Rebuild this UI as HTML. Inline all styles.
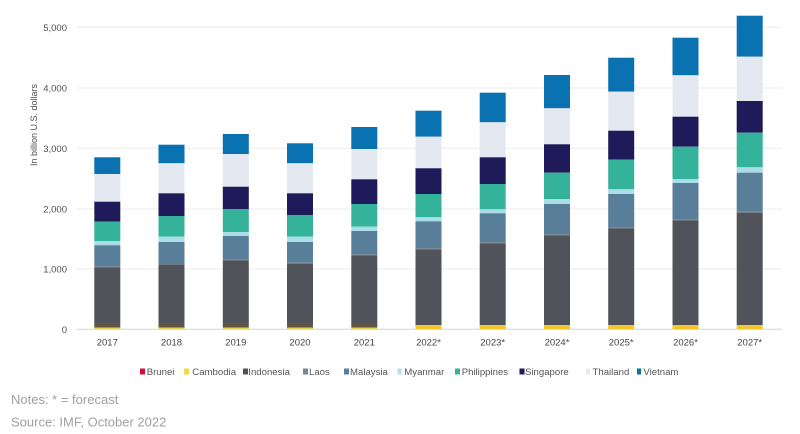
<!DOCTYPE html>
<html>
<head>
<meta charset="utf-8">
<style>
html,body{margin:0;padding:0;background:#fff;}
body{width:800px;height:434px;overflow:hidden;}
svg{display:block;font-family:"Liberation Sans",Arial,sans-serif;}
</style>
</head>
<body>
<svg width="800" height="434" viewBox="0 0 800 434" xmlns="http://www.w3.org/2000/svg">
  <!-- gridlines -->
  <g stroke="#ebebeb" stroke-width="1">
    <line x1="77" y1="27.3" x2="782" y2="27.3"/>
    <line x1="77" y1="88" x2="782" y2="88"/>
    <line x1="77" y1="148.3" x2="782" y2="148.3"/>
    <line x1="77" y1="209" x2="782" y2="209"/>
    <line x1="77" y1="269" x2="782" y2="269"/>
  </g>
  <line x1="77" y1="329.3" x2="782" y2="329.3" stroke="#d6d6d6" stroke-width="1"/>

  <!-- y tick labels -->
  <g font-size="9.5" fill="#505050" text-anchor="end">
    <text x="67" y="31">5,000</text>
    <text x="67" y="91.5">4,000</text>
    <text x="67" y="152">3,000</text>
    <text x="67" y="212.5">2,000</text>
    <text x="67" y="272.5">1,000</text>
    <text x="67" y="333">0</text>
  </g>
  <text transform="translate(37,125) rotate(-90)" font-size="9" fill="#505050" text-anchor="middle">In billion U.S. dollars</text>

  <!-- x labels -->
  <g font-size="9.5" fill="#444" text-anchor="middle">
    <text x="107.3" y="345.5">2017</text>
    <text x="171.5" y="345.5">2018</text>
    <text x="235.8" y="345.5">2019</text>
    <text x="300" y="345.5">2020</text>
    <text x="364.3" y="345.5">2021</text>
    <text x="428.5" y="345.5">2022*</text>
    <text x="492.7" y="345.5">2023*</text>
    <text x="557" y="345.5">2024*</text>
    <text x="621.2" y="345.5">2025*</text>
    <text x="685.5" y="345.5">2026*</text>
    <text x="749.7" y="345.5">2027*</text>
  </g>

  <!-- legend -->
  <g font-size="9.6" fill="#555">
    <rect x="140" y="368.5" width="5" height="6" fill="#d0103a"/><text x="146.7" y="375">Brunei</text>
    <rect x="184" y="368.5" width="5" height="6" fill="#f0d84a"/><text x="192.3" y="375">Cambodia</text>
    <rect x="243" y="368.5" width="5" height="6" fill="#50545a"/><text x="248.3" y="375">Indonesia</text>
    <rect x="303" y="368.5" width="5" height="6" fill="#7a858e"/><text x="309" y="375">Laos</text>
    <rect x="344" y="368.5" width="5" height="6" fill="#587e9a"/><text x="350" y="375">Malaysia</text>
    <rect x="397.5" y="368.5" width="4" height="6" fill="#b4e0e8"/><text x="404.3" y="375">Myanmar</text>
    <rect x="455" y="368.5" width="5" height="6" fill="#34b39a"/><text x="461.7" y="375">Philippines</text>
    <rect x="519.5" y="368.5" width="5" height="6" fill="#1f1a5a"/><text x="525" y="375">Singapore</text>
    <rect x="586" y="368.5" width="4" height="6" fill="#e8ebf1"/><text x="592.5" y="375">Thailand</text>
    <rect x="637" y="368.5" width="4" height="6" fill="#0a72b0"/><text x="643.4" y="375">Vietnam</text>
  </g>

  <!-- notes -->
  <g font-size="13" fill="#a0a0a0">
    <text x="11" y="404">Notes: * = forecast</text>
    <text x="11" y="426.5">Source: IMF, October 2022</text>
  </g>

  <!-- bars -->
  <g>
    <!-- 2017 -->
    <g transform="translate(94.3,0)">
      <rect x="0" y="157.3" width="26" height="16.7" fill="#0a72b0"/>
      <rect x="0" y="174" width="26" height="27.7" fill="#e4e8f0"/>
      <rect x="0" y="201.7" width="26" height="20" fill="#1f1a5a"/>
      <rect x="0" y="221.7" width="26" height="19.3" fill="#34b39a"/>
      <rect x="0" y="241" width="26" height="4.3" fill="#a9dde8"/>
      <rect x="0" y="245.3" width="26" height="21" fill="#587e9a"/>
      <rect x="0" y="266.3" width="26" height="1" fill="#6c7883"/>
      <rect x="0" y="267.3" width="26" height="55.7" fill="#50545a"/>
      <rect x="0" y="323" width="26" height="4.5" fill="#5e5646"/>
      <rect x="0" y="327.5" width="26" height="1.8" fill="#e8cf55"/>
    </g>
    <!-- 2018 -->
    <g transform="translate(158.5,0)">
      <rect x="0" y="144.7" width="26" height="18.6" fill="#0a72b0"/>
      <rect x="0" y="163.3" width="26" height="30" fill="#e4e8f0"/>
      <rect x="0" y="193.3" width="26" height="22.7" fill="#1f1a5a"/>
      <rect x="0" y="216" width="26" height="20.7" fill="#34b39a"/>
      <rect x="0" y="236.7" width="26" height="5.3" fill="#a9dde8"/>
      <rect x="0" y="242" width="26" height="22" fill="#587e9a"/>
      <rect x="0" y="264" width="26" height="1" fill="#6c7883"/>
      <rect x="0" y="265" width="26" height="58" fill="#50545a"/>
      <rect x="0" y="323" width="26" height="4.5" fill="#5e5646"/>
      <rect x="0" y="327.5" width="26" height="1.8" fill="#e8cf55"/>
    </g>
    <!-- 2019 -->
    <g transform="translate(222.8,0)">
      <rect x="0" y="134" width="26" height="20" fill="#0a72b0"/>
      <rect x="0" y="154" width="26" height="32.7" fill="#e4e8f0"/>
      <rect x="0" y="186.7" width="26" height="22.3" fill="#1f1a5a"/>
      <rect x="0" y="209" width="26" height="23" fill="#34b39a"/>
      <rect x="0" y="232" width="26" height="4" fill="#a9dde8"/>
      <rect x="0" y="236" width="26" height="23.3" fill="#587e9a"/>
      <rect x="0" y="259.3" width="26" height="1" fill="#6c7883"/>
      <rect x="0" y="260.3" width="26" height="62.7" fill="#50545a"/>
      <rect x="0" y="323" width="26" height="4.5" fill="#5e5646"/>
      <rect x="0" y="327.5" width="26" height="1.8" fill="#e8cf55"/>
    </g>
    <!-- 2020 -->
    <g transform="translate(287,0)">
      <rect x="0" y="143.3" width="26" height="20" fill="#0a72b0"/>
      <rect x="0" y="163.3" width="26" height="30" fill="#e4e8f0"/>
      <rect x="0" y="193.3" width="26" height="21.7" fill="#1f1a5a"/>
      <rect x="0" y="215" width="26" height="21.7" fill="#34b39a"/>
      <rect x="0" y="236.7" width="26" height="5.3" fill="#a9dde8"/>
      <rect x="0" y="242" width="26" height="20.7" fill="#587e9a"/>
      <rect x="0" y="262.7" width="26" height="1" fill="#6c7883"/>
      <rect x="0" y="263.7" width="26" height="59.3" fill="#50545a"/>
      <rect x="0" y="323" width="26" height="4.5" fill="#5e5646"/>
      <rect x="0" y="327.5" width="26" height="1.8" fill="#e8cf55"/>
    </g>
    <!-- 2021 -->
    <g transform="translate(351.3,0)">
      <rect x="0" y="127" width="26" height="22" fill="#0a72b0"/>
      <rect x="0" y="149" width="26" height="30.3" fill="#e4e8f0"/>
      <rect x="0" y="179.3" width="26" height="24.7" fill="#1f1a5a"/>
      <rect x="0" y="204" width="26" height="22.7" fill="#34b39a"/>
      <rect x="0" y="226.7" width="26" height="4.3" fill="#a9dde8"/>
      <rect x="0" y="231" width="26" height="23.3" fill="#587e9a"/>
      <rect x="0" y="254.3" width="26" height="1" fill="#6c7883"/>
      <rect x="0" y="255.3" width="26" height="68.7" fill="#50545a"/>
      <rect x="0" y="324" width="26" height="3.5" fill="#5e5646"/>
      <rect x="0" y="327.5" width="26" height="1.8" fill="#e8cf55"/>
    </g>
    <!-- 2022 -->
    <g transform="translate(415.5,0)">
      <rect x="0" y="110.7" width="26" height="26" fill="#0a72b0"/>
      <rect x="0" y="136.7" width="26" height="31.6" fill="#e4e8f0"/>
      <rect x="0" y="168.3" width="26" height="25.7" fill="#1f1a5a"/>
      <rect x="0" y="194" width="26" height="23.3" fill="#34b39a"/>
      <rect x="0" y="217.3" width="26" height="4" fill="#a9dde8"/>
      <rect x="0" y="221.3" width="26" height="27" fill="#587e9a"/>
      <rect x="0" y="248.3" width="26" height="1" fill="#6c7883"/>
      <rect x="0" y="249.3" width="26" height="75.7" fill="#50545a"/>
      <rect x="0" y="325" width="26" height="4.3" fill="#f0c82a"/>
    </g>
    <!-- 2023 -->
    <g transform="translate(479.7,0)">
      <rect x="0" y="92.7" width="26" height="29.6" fill="#0a72b0"/>
      <rect x="0" y="122.3" width="26" height="35" fill="#e4e8f0"/>
      <rect x="0" y="157.3" width="26" height="26.7" fill="#1f1a5a"/>
      <rect x="0" y="184" width="26" height="25.3" fill="#34b39a"/>
      <rect x="0" y="209.3" width="26" height="4" fill="#a9dde8"/>
      <rect x="0" y="213.3" width="26" height="29" fill="#587e9a"/>
      <rect x="0" y="242.3" width="26" height="1" fill="#6c7883"/>
      <rect x="0" y="243.3" width="26" height="81.7" fill="#50545a"/>
      <rect x="0" y="325" width="26" height="4.3" fill="#f0c82a"/>
    </g>
    <!-- 2024 -->
    <g transform="translate(544,0)">
      <rect x="0" y="75" width="26" height="33.3" fill="#0a72b0"/>
      <rect x="0" y="108.3" width="26" height="36" fill="#e4e8f0"/>
      <rect x="0" y="144.3" width="26" height="28.4" fill="#1f1a5a"/>
      <rect x="0" y="172.7" width="26" height="26.3" fill="#34b39a"/>
      <rect x="0" y="199" width="26" height="5" fill="#a9dde8"/>
      <rect x="0" y="204" width="26" height="30.3" fill="#587e9a"/>
      <rect x="0" y="234.3" width="26" height="1" fill="#6c7883"/>
      <rect x="0" y="235.3" width="26" height="89.7" fill="#50545a"/>
      <rect x="0" y="325" width="26" height="4.3" fill="#f0c82a"/>
    </g>
    <!-- 2025 -->
    <g transform="translate(608.2,0)">
      <rect x="0" y="57.7" width="26" height="34" fill="#0a72b0"/>
      <rect x="0" y="91.7" width="26" height="39" fill="#e4e8f0"/>
      <rect x="0" y="130.7" width="26" height="29" fill="#1f1a5a"/>
      <rect x="0" y="159.7" width="26" height="29.6" fill="#34b39a"/>
      <rect x="0" y="189.3" width="26" height="4.7" fill="#a9dde8"/>
      <rect x="0" y="194" width="26" height="33.3" fill="#587e9a"/>
      <rect x="0" y="227.3" width="26" height="1" fill="#6c7883"/>
      <rect x="0" y="228.3" width="26" height="96.7" fill="#50545a"/>
      <rect x="0" y="325" width="26" height="4.3" fill="#f0c82a"/>
    </g>
    <!-- 2026 -->
    <g transform="translate(672.5,0)">
      <rect x="0" y="37.7" width="26" height="37.6" fill="#0a72b0"/>
      <rect x="0" y="75.3" width="26" height="41.4" fill="#e4e8f0"/>
      <rect x="0" y="116.7" width="26" height="30" fill="#1f1a5a"/>
      <rect x="0" y="146.7" width="26" height="32.3" fill="#34b39a"/>
      <rect x="0" y="179" width="26" height="4" fill="#a9dde8"/>
      <rect x="0" y="183" width="26" height="36.3" fill="#587e9a"/>
      <rect x="0" y="219.3" width="26" height="1" fill="#6c7883"/>
      <rect x="0" y="220.3" width="26" height="104.7" fill="#50545a"/>
      <rect x="0" y="325" width="26" height="4.3" fill="#f0c82a"/>
    </g>
    <!-- 2027 -->
    <g transform="translate(736.7,0)">
      <rect x="0" y="15.7" width="26" height="41" fill="#0a72b0"/>
      <rect x="0" y="56.7" width="26" height="44.3" fill="#e4e8f0"/>
      <rect x="0" y="101" width="26" height="31.7" fill="#1f1a5a"/>
      <rect x="0" y="132.7" width="26" height="34.6" fill="#34b39a"/>
      <rect x="0" y="167.3" width="26" height="5.4" fill="#a9dde8"/>
      <rect x="0" y="172.7" width="26" height="39" fill="#587e9a"/>
      <rect x="0" y="211.7" width="26" height="1" fill="#6c7883"/>
      <rect x="0" y="212.7" width="26" height="112.3" fill="#50545a"/>
      <rect x="0" y="325" width="26" height="4.3" fill="#f0c82a"/>
    </g>
  </g>
</svg>
</body>
</html>
